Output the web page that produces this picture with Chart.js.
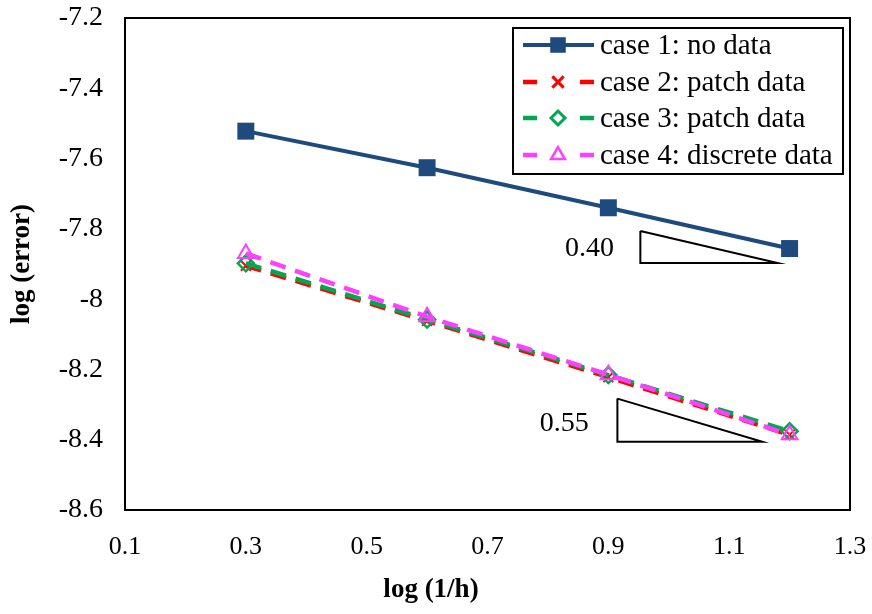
<!DOCTYPE html>
<html>
<head>
<meta charset="utf-8">
<title>log (error) vs log (1/h)</title>
<script src="https://cdn.jsdelivr.net/npm/chart.js@4.4.1/dist/chart.umd.min.js"></script>
<style>
    html, body { margin: 0; padding: 0; background: #ffffff; }
    #chartBox { width: 872px; height: 614px; }
</style>
</head>
<body>
<div id="chartBox"><canvas id="errorChart"></canvas></div>
<script>
// Data
var logInvH = [0.3, 0.6, 0.9, 1.2];
var case1 = [-7.522, -7.626, -7.740, -7.856];
var case2 = [-7.905, -8.062, -8.222, -8.386];
var case3 = [-7.898, -8.058, -8.216, -8.376];
var case4 = [-7.870, -8.050, -8.215, -8.386];

var seriesLabels = ["case 1: no data", "case 2: patch data", "case 3: patch data", "case 4: discrete data"];

// slope triangles (corner points in data units)
var triTopX = [0.953, 0.953, 1.180, 0.953];
var triTopY = [-7.806, -7.897, -7.897, -7.806];
var triBottomX = [0.915, 0.915, 1.155, 0.915];
var triBottomY = [-8.283, -8.406, -8.406, -8.283];
var slopeLabels = ["0.40", "0.55"];
var slopeLabelX = [0.869, 0.827];
var slopeLabelY = [-7.856, -8.355];

var xTicks = [0.1, 0.3, 0.5, 0.7, 0.9, 1.1, 1.3];
var yTicks = [-8.6, -8.4, -8.2, -8, -7.8, -7.6, -7.4, -7.2];

var serifFont = "'Liberation Serif', 'Times New Roman', serif";

function toPoints(xs, ys)
{
    return xs.map((x, i) => ({ x: x, y: ys[i] }));
}

function setTicks(values)
{
    return function(scale) {
        scale.ticks = values.map(v => ({ value: v }));
    };
}

// Fix the axis size and drop the extra room kept for overhanging labels
function fitAxis(size)
{
    return function(scale) {
        if (scale.isHorizontal())
        {
            scale.height = size;
        }
        else
        {
            scale.width = size;
        }
        scale.paddingTop = 0;
        scale.paddingBottom = 0;
        scale.paddingLeft = 0;
        scale.paddingRight = 0;
    };
}

// Frame round the plot area, slope labels and axis titles
var framePlugin = {
    id: 'framePlugin',
    afterDatasetsDraw: function(chart)
    {
        var ctx = chart.ctx;
        var area = chart.chartArea;
        var xs = chart.scales.x;
        var ys = chart.scales.y;

        ctx.save();
        ctx.strokeStyle = '#000000';
        ctx.lineWidth = 2;
        ctx.strokeRect(area.left, area.top, area.right - area.left, area.bottom - area.top);

        // Slope labels
        ctx.fillStyle = '#000000';
        ctx.font = "28px " + serifFont;
        ctx.textAlign = 'center';
        ctx.textBaseline = 'middle';
        slopeLabels.forEach((text, i) => {
            ctx.fillText(text, xs.getPixelForValue(slopeLabelX[i]), ys.getPixelForValue(slopeLabelY[i]));
        });

        // Axis titles
        ctx.font = "bold 27px " + serifFont;
        ctx.fillText("log (1/h)", 431, 590);
        ctx.translate(22, (area.top + area.bottom) / 2);
        ctx.rotate(-Math.PI / 2);
        ctx.fillText("log (error)", 0, 0);
        ctx.restore();
    }
};

// Legend drawn in a framed box inside the plot
var legendBoxPlugin = {
    id: 'legendBoxPlugin',
    afterDraw: function(chart)
    {
        var ctx = chart.ctx;
        var left = 513, top = 28, width = 330, height = 146;
        var rowY = [45, 82, 118, 155];

        ctx.save();
        ctx.fillStyle = '#ffffff';
        ctx.fillRect(left, top, width, height);
        ctx.strokeStyle = '#000000';
        ctx.lineWidth = 2;
        ctx.strokeRect(left, top, width, height);

        for (var i = 0; i < 4; i++)
        {
            var ds = chart.data.datasets[i];
            var y = rowY[i];

            // line sample
            ctx.strokeStyle = ds.borderColor;
            ctx.lineWidth = ds.borderWidth;
            ctx.setLineDash([]);
            ctx.beginPath();
            if (ds.borderDash)
            {
                ctx.moveTo(523, y); ctx.lineTo(537, y);
                ctx.moveTo(580, y); ctx.lineTo(594, y);
            }
            else
            {
                ctx.moveTo(523, y); ctx.lineTo(594, y);
            }
            ctx.stroke();

            // marker
            ctx.fillStyle = ds.pointBackgroundColor;
            ctx.strokeStyle = ds.borderColor;
            ctx.lineWidth = ds.legendBorderWidth;
            Chart.helpers.drawPoint(ctx, {
                pointStyle: ds.pointStyle,
                radius: ds.legendRadius,
                borderWidth: ds.legendBorderWidth,
                rotation: 0
            }, 558, y);

            // text
            ctx.fillStyle = '#000000';
            ctx.font = "29px " + serifFont;
            ctx.textAlign = 'left';
            ctx.textBaseline = 'middle';
            ctx.fillText(seriesLabels[i], 600, y + 1);
        }
        ctx.restore();
    }
};

var ctx = document.getElementById('errorChart').getContext('2d');

var errorChart = new Chart(ctx, {
    type: 'scatter',
    data: {
        datasets: [
            {
                label: seriesLabels[0],
                data: toPoints(logInvH, case1),
                showLine: true,
                borderColor: '#1F4A7E',
                backgroundColor: '#1F4A7E',
                pointBackgroundColor: '#1F4A7E',
                borderWidth: 4,
                pointStyle: 'rect',
                pointRadius: 12,
                legendRadius: 11,
                pointBorderWidth: 0,
                legendBorderWidth: 0,
                order: 4
            },
            {
                label: seriesLabels[1],
                data: toPoints(logInvH, case2),
                showLine: true,
                borderColor: '#FF0000',
                backgroundColor: '#FF0000',
                pointBackgroundColor: '#FF0000',
                borderWidth: 4.5,
                borderDash: [16, 10],
                pointStyle: 'crossRot',
                pointRadius: 7,
                legendRadius: 8,
                pointBorderWidth: 2,
                legendBorderWidth: 3,
                order: 3
            },
            {
                label: seriesLabels[2],
                data: toPoints(logInvH, case3),
                showLine: true,
                borderColor: '#00A651',
                backgroundColor: '#00A651',
                pointBackgroundColor: 'rgba(255,255,255,0)',
                borderWidth: 4.5,
                borderDash: [16, 10],
                pointStyle: 'rectRot',
                pointRadius: 8,
                legendRadius: 7,
                pointBorderWidth: 2.5,
                legendBorderWidth: 3,
                order: 2
            },
            {
                label: seriesLabels[3],
                data: toPoints(logInvH, case4),
                showLine: true,
                borderColor: '#FF40FF',
                backgroundColor: '#FF40FF',
                pointBackgroundColor: 'rgba(255,255,255,0)',
                borderWidth: 4.5,
                borderDash: [16, 10],
                pointStyle: 'triangle',
                pointRadius: 9,
                legendRadius: 8,
                pointBorderWidth: 2,
                legendBorderWidth: 2.5,
                order: 1
            },
            {
                label: 'slope 0.40',
                data: toPoints(triTopX, triTopY),
                showLine: true,
                borderColor: '#000000',
                borderWidth: 2,
                pointRadius: 0,
                order: 5
            },
            {
                label: 'slope 0.55',
                data: toPoints(triBottomX, triBottomY),
                showLine: true,
                borderColor: '#000000',
                borderWidth: 2,
                pointRadius: 0,
                order: 5
            }
        ]
    },
    options: {
        responsive: true,
        maintainAspectRatio: false,
        animation: false,
        layout: { padding: { left: 0, right: 22, top: 18, bottom: 0 } },
        plugins: {
            legend: { display: false },
            tooltip: { enabled: false }
        },
        scales: {
            x: {
                type: 'linear',
                min: 0.1,
                max: 1.3,
                afterBuildTicks: setTicks(xTicks),
                afterFit: fitAxis(104),
                grid: { display: false },
                border: { display: false },
                ticks: {
                    color: '#000000',
                    padding: 14,
                    maxRotation: 0,
                    font: { family: serifFont, size: 26 },
                    callback: function(value) { return String(Math.round(value * 10) / 10); }
                }
            },
            y: {
                type: 'linear',
                min: -8.6,
                max: -7.2,
                afterBuildTicks: setTicks(yTicks),
                afterFit: fitAxis(125),
                grid: { display: false },
                border: { display: false },
                ticks: {
                    color: '#000000',
                    padding: 14,
                    font: { family: serifFont, size: 28 },
                    callback: function(value) { return String(Math.round(value * 10) / 10); }
                }
            }
        }
    },
    plugins: [framePlugin, legendBoxPlugin]
});
</script>
</body>
</html>
